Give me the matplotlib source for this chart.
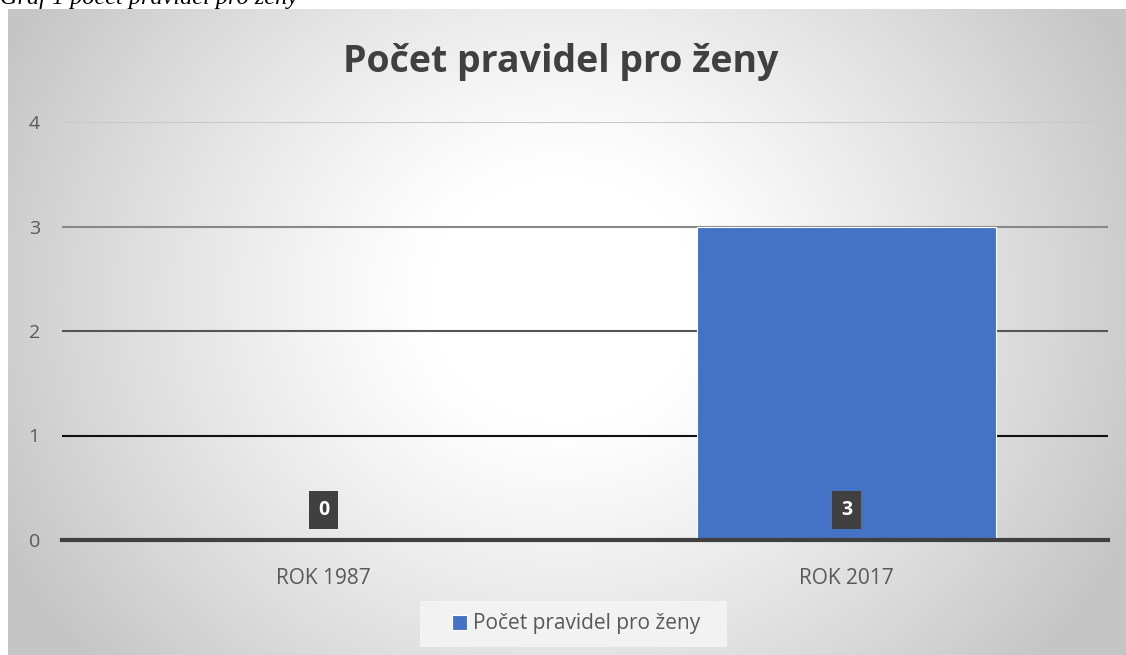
import numpy as np
import matplotlib
matplotlib.use('Agg')
import matplotlib.pyplot as plt
from matplotlib.patches import Rectangle

# data
categories = ['ROK 1987', 'ROK 2017']
values = [0, 3]
series_name = 'Počet pravidel pro ženy'
y_ticks = [0, 1, 2, 3, 4]
title = 'Počet pravidel pro ženy'
caption = 'Graf 1 počet pravidel pro ženy'

W, H = 1126, 655
BAR_COLOR = '#4472C4'
TEXT_DARK = '#404040'
TEXT_GREY = '#595959'

plt.rcParams['font.family'] = ['Open Sans', 'DejaVu Sans']

fig = plt.figure(figsize=(W / 100, H / 100), dpi=100)

# chart area background: radial grey gradient
bg_left, bg_top = 8, 9
bg = fig.add_axes([bg_left / W, 0, 1 - bg_left / W, 1 - bg_top / H])
bw, bh = W - bg_left, H - bg_top
yy, xx = np.mgrid[0:bh, 0:bw]
cx, cy = 555, 290
r = np.sqrt(((xx - cx) / 620.0) ** 2 + ((yy - cy) / 560.0) ** 2)
t = np.clip((r - 0.22) / 0.78, 0, 1) ** 1.15
shade = 1.0 - t * (1.0 - 0.775)
bg.imshow(np.dstack([shade, shade, shade]), extent=(0, bw, bh, 0),
          aspect='auto', interpolation='bilinear')
bg.set_xlim(0, bw)
bg.set_ylim(bh, 0)
bg.axis('off')
bg.set_zorder(0)

# caption above chart (partly cut off at top of image, as in the source)
fig.text(0.0, 1 - 4 / H, caption, ha='left', va='baseline', fontsize=17.5,
         family='Liberation Serif', style='italic', color='black')

# plot area
left, right, y0px, y4px = 62, 1108, 540, 122
ax = fig.add_axes([left / W, 1 - y0px / H, (right - left) / W, (y0px - y4px) / H])
ax.set_zorder(1)
ax.patch.set_alpha(0)
x = np.arange(len(categories))
bars = ax.bar(x, values, width=0.57, color=BAR_COLOR, edgecolor='white',
              linewidth=0.8, zorder=3, label=series_name)
ax.set_xlim(-0.5, len(categories) - 0.5)
ax.set_ylim(0, 4)
ax.set_yticks(y_ticks)
ax.set_xticks(x)
ax.set_xticklabels(categories)
for s in ax.spines.values():
    s.set_visible(False)
ax.tick_params(axis='both', length=0, colors=TEXT_GREY)
ax.tick_params(axis='y', labelsize=14, pad=16)
ax.tick_params(axis='x', labelsize=15, pad=20)

ax.yaxis.grid(True, linewidth=1.5, zorder=1)
ax.set_axisbelow(True)
grid_colors = ['#404040', '#111111', '#555555', '#888888', '#c8c8c8']
for gl, c in zip(ax.get_ygridlines(), grid_colors):
    gl.set_color(c)
ax.axhline(0, color='#404040', linewidth=3, zorder=4, clip_on=False)

# data labels (inside base)
for xi, v in zip(x, values):
    ax.annotate(f'{v}', xy=(xi, 0), xytext=(0, 21.5), textcoords='offset points',
                ha='center', va='center', fontsize=14, fontweight='bold', color='white',
                zorder=5,
                bbox=dict(boxstyle='square,pad=0.45', facecolor=TEXT_DARK, edgecolor='none'))

# title
fig.text(561 / W, 1 - 62 / H, title, ha='center', va='center', fontsize=27,
         fontweight='bold', color=TEXT_DARK)

# legend (frame drawn separately to match the wide box)
ax.add_patch(Rectangle((420 / W, 1 - 647 / H), 307 / W, 46 / H,
                       transform=fig.transFigure, facecolor='#f2f2f2',
                       edgecolor='none', zorder=0.5, clip_on=False))
leg = ax.legend(loc='center', bbox_to_anchor=(576 / W, 1 - 624 / H),
                bbox_transform=fig.transFigure, frameon=False,
                fontsize=15, handlelength=0.72, handleheight=0.72,
                handletextpad=0.3, borderpad=0.3)
leg.set_zorder(6)
for txt in leg.get_texts():
    txt.set_color(TEXT_GREY)

fig.savefig('out.png', dpi=100)
